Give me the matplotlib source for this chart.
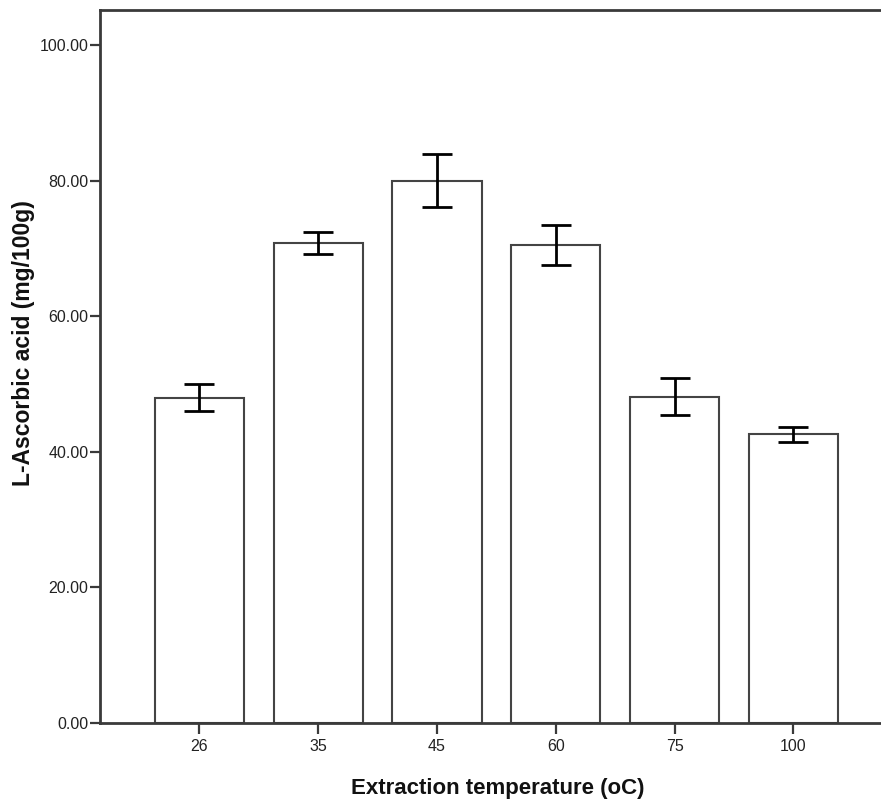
import matplotlib
matplotlib.use("Agg")
import matplotlib.pyplot as plt

plt.rcParams['font.family'] = ['Liberation Sans', 'DejaVu Sans']

# datos
temperatures = ['26', '35', '45', '60', '75', '100']
ascorbic = [48.0, 70.8, 80.0, 70.5, 48.1, 42.6]
error = [2.05, 1.6, 3.95, 3.0, 2.75, 1.1]

fig = plt.figure(figsize=(8.81, 8.05), dpi=100)
ax = fig.add_axes([0.114, 0.1022, 0.886, 0.8854])

x = range(len(temperatures))
ax.bar(x, ascorbic, width=0.75, color='white', edgecolor='#444444', linewidth=1.5, zorder=2)
ax.errorbar(x, ascorbic, yerr=error, fmt='none', ecolor='black', elinewidth=2.0,
            capsize=10.5, capthick=2.0, zorder=3)

ax.set_xlim(-0.834, 5.738)
ax.set_ylim(0, 105.2)
ax.set_yticks([0, 20, 40, 60, 80, 100])
ax.set_yticklabels([f'{v:.2f}' for v in [0, 20, 40, 60, 80, 100]])
ax.set_xticks(list(x))
ax.set_xticklabels(temperatures)

ax.spines['right'].set_visible(False)
for s in ['left', 'bottom', 'top']:
    ax.spines[s].set_linewidth(2.0)
    ax.spines[s].set_color('#3a3a3a')

ax.tick_params(axis='y', length=7.2, width=1.6, pad=1.5, labelsize=11.5, colors='#3a3a3a', labelcolor='#222222')
ax.tick_params(axis='x', length=7.8, width=1.6, pad=4, labelsize=11.5, colors='#3a3a3a', labelcolor='#222222')

ax.set_xlabel('Extraction temperature (oC)', fontsize=16, fontweight='bold', color='#111111')
ax.set_ylabel('L-Ascorbic acid (mg/100g)', fontsize=16.5, fontweight='bold', color='#111111')
ax.xaxis.set_label_coords(0.509, -0.0776)
ax.yaxis.set_label_coords(-0.084, 0.533)

fig.savefig('out.png', dpi=100)
